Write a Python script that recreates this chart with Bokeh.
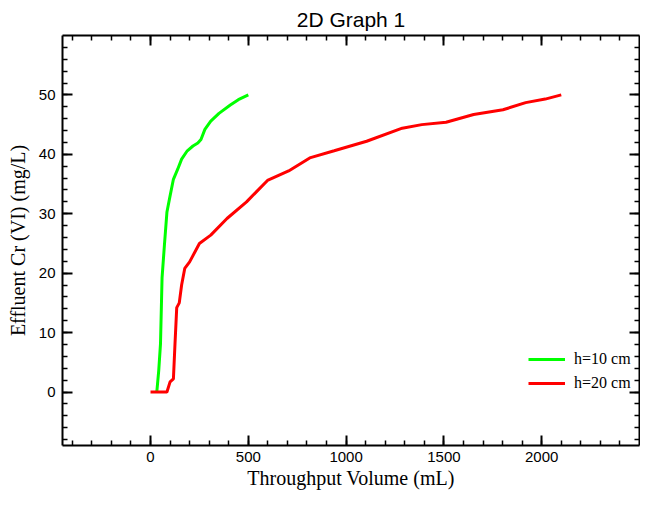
from bokeh.plotting import figure
from bokeh.models import (Range1d, LinearAxis, FixedTicker, CustomJSTickFormatter,
                          Legend, LegendItem)
from bokeh.embed import file_html
from bokeh.resources import INLINE

# ---- data ----
h10_volume = [32, 42, 51, 59, 71, 84, 97, 117, 139, 159, 188, 217, 242, 258, 278, 308, 350, 408, 449, 500]
h10_conc = [0, 3.6, 8.1, 19.2, 24.7, 30.3, 32.5, 35.8, 37.5, 39.2, 40.6, 41.4, 41.9, 42.5, 44.2, 45.6, 46.9, 48.3, 49.2, 50]

h20_volume = [0, 84, 100, 117, 125, 134, 147, 159, 175, 200, 250, 308, 391, 491, 598, 706, 814, 939,
              1105, 1287, 1387, 1511, 1652, 1802, 1918, 2018, 2100]
h20_conc = [0, 0, 1.7, 2.2, 8.0, 14.2, 15.0, 18.0, 20.8, 21.9, 25.0, 26.4, 29.2, 32.0, 35.6, 37.2, 39.4, 40.6,
            42.2, 44.4, 45.0, 45.4, 46.7, 47.5, 48.7, 49.3, 50]

series_labels = ["h=10 cm", "h=20 cm"]
x_major = [0, 500, 1000, 1500, 2000]
x_minor = list(range(-400, 2500, 100))
y_major = [0, 10, 20, 30, 40, 50]
y_minor = list(range(-8, 60, 2))

SANS = "Liberation Sans"
SERIF = "Liberation Serif"

p = figure(width=640, height=491, output_backend="svg", toolbar_location=None,
           x_range=Range1d(-450, 2500), y_range=Range1d(-9, 60),
           title="2D Graph 1", x_axis_location=None, y_axis_location=None,
           min_border_left=62, min_border_right=1, min_border_top=35, min_border_bottom=46)
p.grid.visible = False
p.outline_line_color = None
p.background_fill_color = "white"
p.border_fill_color = "white"

p.title.align = "center"
p.title.text_font = SANS
p.title.text_font_size = "21px"
p.title.text_font_style = "normal"
p.title.text_color = "black"
p.title.standoff = 10

blank = CustomJSTickFormatter(code="return ''")

def style_axis(ax, labels=True):
    ax.axis_line_width = 2
    ax.axis_line_color = "black"
    ax.major_tick_in = 10
    ax.major_tick_out = 0
    ax.minor_tick_in = 5
    ax.minor_tick_out = 0
    ax.major_tick_line_width = 2
    ax.minor_tick_line_width = 1.5
    ax.major_tick_line_color = "black"
    ax.minor_tick_line_color = "black"
    ax.major_label_text_font = SANS
    ax.major_label_text_font_size = "15px"
    ax.major_label_text_color = "black"
    ax.axis_label_text_font = SERIF
    ax.axis_label_text_font_size = "20px"
    ax.axis_label_text_font_style = "normal"
    ax.axis_label_text_color = "black"
    if not labels:
        ax.formatter = blank
        ax.major_label_standoff = 0

xt = FixedTicker(ticks=x_major, minor_ticks=x_minor)
yt = FixedTicker(ticks=y_major, minor_ticks=y_minor)

bottom = LinearAxis(ticker=xt, axis_label="Throughput Volume (mL)")
top = LinearAxis(ticker=xt)
left = LinearAxis(ticker=yt, axis_label="Effluent Cr (VI) (mg/L)")
right = LinearAxis(ticker=yt)
style_axis(bottom)
style_axis(left)
style_axis(top, labels=False)
style_axis(right, labels=False)
bottom.major_label_standoff = 6
bottom.axis_label_standoff = 2
left.major_label_standoff = 7
left.axis_label_standoff = 7

p.add_layout(bottom, "below")
p.add_layout(left, "left")
p.add_layout(top, "above")
p.add_layout(right, "right")

r10 = p.line(h10_volume, h10_conc, line_color="#00ff00", line_width=3)
r20 = p.line(h20_volume, h20_conc, line_color="#ff0000", line_width=3)

legend = Legend(items=[LegendItem(label=series_labels[0], renderers=[r10]),
                       LegendItem(label=series_labels[1], renderers=[r20])],
                location=(466, 53), padding=0, margin=0, spacing=6,
                glyph_width=37, glyph_height=16, label_height=16, label_standoff=9,
                border_line_color=None, background_fill_alpha=0,
                label_text_font=SERIF, label_text_font_size="16px", label_text_color="black")
p.add_layout(legend, "center")

open("out.html", "w").write(file_html(p, INLINE))
